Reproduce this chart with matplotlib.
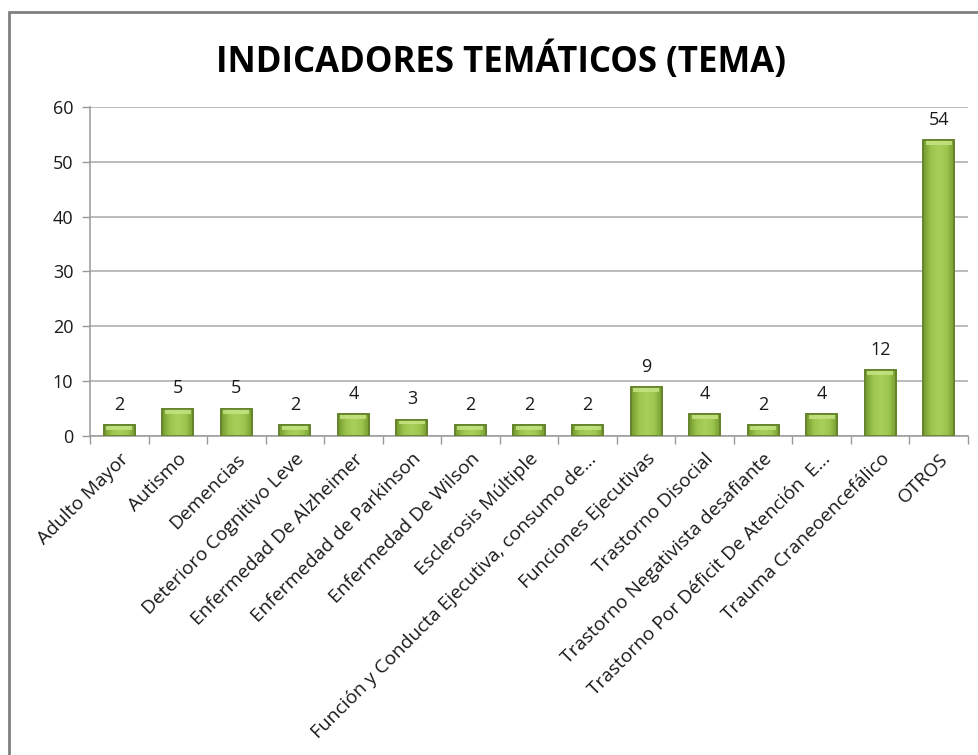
import matplotlib
matplotlib.use("Agg")
import matplotlib.pyplot as plt
import numpy as np
from matplotlib.patches import Rectangle
from matplotlib.colors import LinearSegmentedColormap

categories = [
    "Adulto Mayor", "Autismo", "Demencias", "Deterioro Cognitivo Leve",
    "Enfermedad De Alzheimer", "Enfermedad de Parkinson", "Enfermedad De Wilson",
    "Esclerosis Múltiple", "Función y Conducta Ejecutiva, consumo de…",
    "Funciones Ejecutivas", "Trastorno Disocial", "Trastorno Negativista desafiante",
    "Trastorno Por Déficit De Atención  E…", "Trauma Craneoencefálico", "OTROS",
]
values = [2, 5, 5, 2, 4, 3, 2, 2, 2, 9, 4, 2, 4, 12, 54]
yticks = [0, 10, 20, 30, 40, 50, 60]
title = "INDICADORES TEMÁTICOS (TEMA)"

FONT = ["Open Sans", "DejaVu Sans"]
plt.rcParams["font.family"] = FONT

fig = plt.figure(figsize=(9.79, 7.55), dpi=100)
ax = fig.add_axes([90/979, 1-436/755, (968-90)/979, (436-107)/755])

x = np.arange(len(categories))
bars = ax.bar(x, values, width=0.53, color="#8DB840", edgecolor="#6A8A2A",
              linewidth=1.2, zorder=3)

cmap = LinearSegmentedColormap.from_list("g", ["#74982F", "#9CC64E", "#A8CF5A", "#9CC64E", "#74982F"])
grad = np.linspace(0, 1, 64).reshape(1, -1)
for b in bars:
    x0, y0, w, h = b.get_x(), b.get_y(), b.get_width(), b.get_height()
    im = ax.imshow(grad, cmap=cmap, extent=[x0, x0 + w, y0, y0 + h],
                   aspect="auto", zorder=3.1, interpolation="bicubic")
    im.set_clip_path(b)
    bev = min(h * 0.45, 0.9)
    ax.add_patch(Rectangle((x0 + w*0.08, y0 + h - bev), w*0.84, bev*0.85,
                           facecolor="#C6E482", edgecolor="none", alpha=0.85, zorder=3.2))
    ax.add_patch(Rectangle((x0, y0), w, h, facecolor="none",
                           edgecolor="#62802A", linewidth=1.2, zorder=3.3))

for xi, v in zip(x, values):
    ax.annotate(str(v), (xi, v), xytext=(0, 8), textcoords="offset points",
                ha="center", va="bottom", fontsize=13, color="#1a1a1a")

ax.set_xlim(-0.5, len(categories) - 0.5)
ax.set_ylim(0, 60)
ax.set_yticks(yticks)
ax.set_yticklabels([str(t) for t in yticks], fontsize=13, color="#1a1a1a")
ax.yaxis.grid(True, color="#A8A8A8", linewidth=1.1, zorder=0)
ax.set_axisbelow(True)

ax.set_xticks(x)
ax.set_xticklabels(categories, rotation=45, ha="right", rotation_mode="anchor",
                   fontsize=13.8, color="#1a1a1a")
ax.set_xticks(np.arange(-0.5, len(categories), 1.0), minor=True)
ax.tick_params(axis="x", which="major", length=0, pad=10)
ax.tick_params(axis="x", which="minor", length=6, color="#999999", width=1)
ax.tick_params(axis="y", which="major", length=6, color="#999999", width=1, pad=6)

for s in ["top", "right"]:
    ax.spines[s].set_visible(False)
for s in ["left", "bottom"]:
    ax.spines[s].set_color("#999999")
    ax.spines[s].set_linewidth(1.1)

fig.text(501/979, 1-62/755, title, ha="center", va="center",
         fontsize=25, fontweight="bold", color="#000000")

fig.patches.append(Rectangle((9/979, -0.05), 1.2, 1 - 12/755 + 0.05,
                             transform=fig.transFigure, facecolor="none",
                             edgecolor="#808080", linewidth=2, zorder=10))

fig.savefig("out.png", dpi=100)
